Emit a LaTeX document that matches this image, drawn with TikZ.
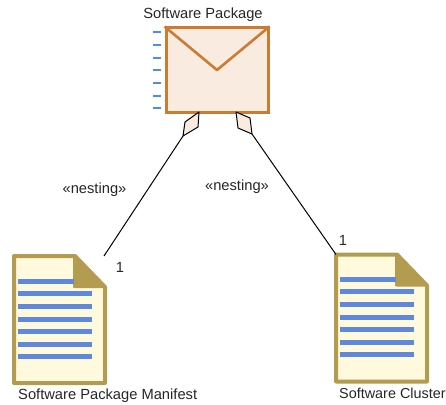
\documentclass[tikz,border=0pt]{standalone}
\usepackage{fontspec}
\usepackage{xcolor}
\setmainfont{Liberation Sans}
\usetikzlibrary{
    calc,
    positioning
}
\definecolor{pkgline}{HTML}{CC7B33}
\definecolor{pkgfill}{HTML}{F9EBDF}
\definecolor{tickblue}{HTML}{4F8FD8}
\definecolor{docline}{HTML}{B39B4F}
\definecolor{docfill}{HTML}{FFF9DE}
\definecolor{barblue}{HTML}{5F87DB}
\tikzset{lbl/.style={inner sep=0pt, font=\fontsize{14.7}{16}\selectfont, text=black!85}}
\tikzset{pkgbox/.style={draw=pkgline, fill=pkgfill, line width=3pt, minimum width=102pt, minimum height=84pt, inner sep=0pt}}
\tikzset{docpage/.style={draw=docline, fill=docfill, line width=4pt, line join=round}}
\tikzset{docfold/.style={draw=docline, fill=docline, line width=2pt, line join=round}}
\tikzset{docbar/.style={draw=barblue, line width=5pt}}
\tikzset{nest/.style={draw=black, fill=pkgfill, line width=1pt, line join=round}}
\tikzset{assoc/.style={draw=black, line width=1pt}}

\begin{document}
\begin{tikzpicture}[x=1pt, y=-1pt]
    \useasboundingbox (0, 0) rectangle (446, 404);

    \node[pkgbox] (pkg) at (217, 70) {};
    \draw[draw=pkgline, line width=2.6pt, line join=round] (pkg.north west) -- (217, 70) -- (pkg.north east);
    \draw[draw=tickblue, line width=2.6pt]
    (153, 32) -- (161, 32)
    (153, 45) -- (161, 45)
    (153, 58) -- (161, 58)
    (153, 70) -- (161, 70)
    (153, 83) -- (161, 83)
    (153, 96) -- (161, 96)
    (153, 108) -- (161, 108);

    \begin{scope}[shift={(0, 0)}]
        \draw[docpage] (14, 256) -- (75, 256) -- (105, 287) -- (105, 383) -- (14, 383) -- cycle;
        \draw[docfold] (74, 256) -- (105, 287) -- (74, 287) -- cycle;
        \draw[docbar]
        (17.5, 281) -- (74, 281)
        (17.5, 293) -- (92, 293)
        (17.5, 306) -- (92, 306)
        (17.5, 319) -- (92, 319)
        (17.5, 331) -- (92, 331)
        (17.5, 344) -- (92, 344)
        (17.5, 356) -- (92, 356);
    \end{scope}
    \begin{scope}[shift={(322, -1.5)}]
        \draw[docpage] (14, 256) -- (75, 256) -- (105, 287) -- (105, 383) -- (14, 383) -- cycle;
        \draw[docfold] (74, 256) -- (105, 287) -- (74, 287) -- cycle;
        \draw[docbar]
        (17.5, 281) -- (74, 281)
        (17.5, 293) -- (92, 293)
        (17.5, 306) -- (92, 306)
        (17.5, 319) -- (92, 319)
        (17.5, 331) -- (92, 331)
        (17.5, 344) -- (92, 344)
        (17.5, 356) -- (92, 356);
    \end{scope}

    \coordinate (lefttip) at (183, 136);
    \coordinate (righttip) at (252, 134);
    \coordinate (manifestend) at (104, 256);
    \coordinate (clusterend) at (336, 254.5);

    \draw[nest] (199, 112) -- (198, 127) -- (lefttip) -- (185, 122) -- cycle;
    \draw[nest] (236, 112) -- (250, 118) -- (righttip) -- (238, 128) -- cycle;

    \draw[assoc] (lefttip) -- (manifestend);
    \draw[assoc] (righttip) -- (clusterend);

    \node[lbl] (pkglabel) at (203, 15) {Software Package};
    \node[lbl] (nestleft) at (94.5, 190) {«nesting»};
    \node[lbl] (nestright) at (237, 187) {«nesting»};
    \node[lbl] (oneleft) at (120, 267) {1};
    \node[lbl] (oneright) at (343, 240) {1};
    \node[lbl, anchor=west] (manifestlabel) at (18, 395.5) {Software Package Manifest};
    \node[lbl, anchor=west, font=\fontsize{14.4}{16}\selectfont] (clusterlabel) at (339, 393.5) {Software Cluster};
\end{tikzpicture}
\end{document}
